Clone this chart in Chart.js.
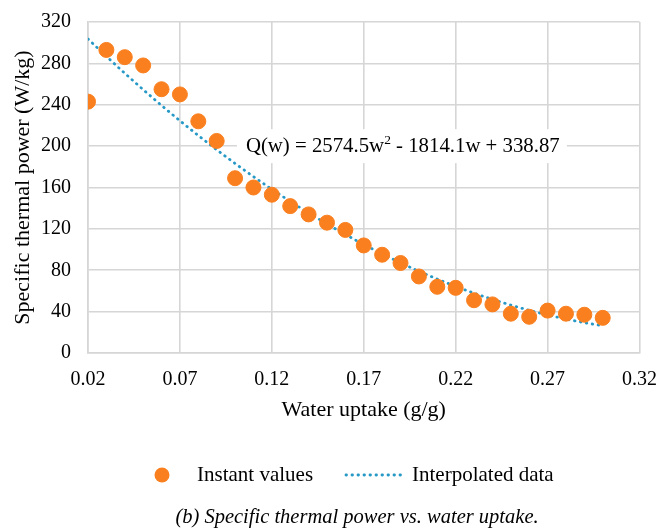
<!DOCTYPE html>
<html>
<head>
<meta charset="utf-8">
<script src="https://cdn.jsdelivr.net/npm/chart.js@4"></script>
<style>
  html, body { margin: 0; padding: 0; background: #fff; }
  #wrap { width: 660px; height: 528px; }
</style>
</head>
<body>
<div id="wrap"><canvas id="powerChart"></canvas></div>
<script>
// Measured specific thermal power against water uptake
const uptake = [0.02, 0.03, 0.04, 0.05, 0.06, 0.07, 0.08, 0.09, 0.10, 0.11,
                0.12, 0.13, 0.14, 0.15, 0.16, 0.17, 0.18, 0.19, 0.20, 0.21,
                0.22, 0.23, 0.24, 0.25, 0.26, 0.27, 0.28, 0.29, 0.30];
const instantPower = [243, 293, 286, 278, 255, 250, 224, 205, 169, 160,
                      153, 142, 134, 126, 119, 104, 95, 87, 74, 64,
                      63, 51, 47, 38, 35, 41, 38, 37, 34];

// Quadratic trendline coefficients: Q(w) = a*w^2 + b*w + c
const fitA = 2574.5;
const fitB = -1814.1;
const fitC = 338.87;

const xTicks = [0.02, 0.07, 0.12, 0.17, 0.22, 0.27, 0.32];
const yTicks = [0, 40, 80, 120, 160, 200, 240, 280, 320];

const SERIF = '"Liberation Serif", "Times New Roman", serif';
const ORANGE = '#FA7F1E';
const TEAL = '#2699C6';
const GRID = '#D6D6D6';

const fitted = uptake.map(w => ({ x: w, y: fitA * w * w + fitB * w + fitC }));
const measured = uptake.map((w, i) => ({ x: w, y: instantPower[i] }));

// equation box on the plot, legend and caption underneath
const extras = {
  id: 'extras',
  afterDatasetsDraw(chart) {
    const ctx = chart.ctx;
    const xs = chart.scales.x, ys = chart.scales.y;
    const x0 = xs.getPixelForValue(0.101);
    const yc = ys.getPixelForValue(200);
    ctx.save();
    ctx.fillStyle = '#fff';
    ctx.fillRect(x0, yc - 17, 330, 34);
    ctx.fillStyle = '#000';
    ctx.textBaseline = 'middle';
    ctx.font = '20.8px ' + SERIF;
    let x = x0 + 9;
    const part1 = 'Q(w) = ' + fitA.toFixed(1) + 'w';
    ctx.fillText(part1, x, yc);
    x += ctx.measureText(part1).width;
    ctx.font = '13.5px ' + SERIF;
    ctx.fillText('2', x, yc - 6);
    x += ctx.measureText('2').width;
    ctx.font = '20.8px ' + SERIF;
    ctx.fillText(' - ' + Math.abs(fitB).toFixed(1) + 'w + ' + fitC.toFixed(2), x, yc);
    ctx.restore();
  },
  afterDraw(chart) {
    const ctx = chart.ctx;
    const ly = 475;
    ctx.save();
    ctx.fillStyle = ORANGE;
    ctx.beginPath();
    ctx.arc(162, ly, 7.5, 0, Math.PI * 2);
    ctx.fill();
    ctx.strokeStyle = TEAL;
    ctx.lineWidth = 2.8;
    ctx.lineCap = 'round';
    ctx.setLineDash([0.5, 5.5]);
    ctx.beginPath();
    ctx.moveTo(346, ly);
    ctx.lineTo(402, ly);
    ctx.stroke();
    ctx.fillStyle = '#000';
    ctx.textBaseline = 'middle';
    ctx.font = '21px ' + SERIF;
    ctx.fillText('Instant values', 197, ly);
    ctx.fillText('Interpolated data', 412, ly);
    ctx.font = 'italic 20.5px ' + SERIF;
    ctx.textAlign = 'center';
    ctx.fillText('(b) Specific thermal power vs. water uptake.', 357, 518);
    ctx.restore();
  }
};

new Chart(document.getElementById('powerChart'), {
  type: 'scatter',
  data: {
    datasets: [
      {
        label: 'Instant values',
        data: measured,
        backgroundColor: ORANGE,
        borderColor: ORANGE,
        pointRadius: 7.5,
        pointHoverRadius: 7.5,
        order: 1
      },
      {
        label: 'Interpolated data',
        type: 'line',
        data: fitted,
        borderColor: TEAL,
        borderWidth: 2.8,
        borderDash: [0.5, 5.5],
        borderCapStyle: 'round',
        pointRadius: 0,
        fill: false,
        order: 2
      }
    ]
  },
  options: {
    responsive: true,
    maintainAspectRatio: false,
    animation: false,
    layout: { padding: { top: 22, right: 0, bottom: 100, left: 0 } },
    plugins: {
      legend: { display: false },
      tooltip: { enabled: false }
    },
    scales: {
      x: {
        type: 'linear',
        min: 0.02,
        max: 0.32,
        afterBuildTicks: s => { s.ticks = xTicks.map(v => ({ value: v })); },
        afterFit: s => { s.height = 75; },
        // invisible tick marks push the labels down without widening the side padding
        grid: { color: GRID, lineWidth: 1.6, drawTicks: true, tickLength: 12, tickColor: 'rgba(0,0,0,0)' },
        border: { color: GRID, width: 1.6 },
        ticks: {
          padding: 3,
          color: '#000',
          font: { family: SERIF, size: 20 },
          callback: v => v.toFixed(2)
        },
        title: {
          display: true,
          text: 'Water uptake (g/g)',
          color: '#000',
          font: { family: SERIF, size: 22 },
          padding: { top: 0, bottom: 5 }
        }
      },
      y: {
        min: 0,
        max: 320,
        afterBuildTicks: s => { s.ticks = yTicks.map(v => ({ value: v })); },
        afterFit: s => { s.width = 88; },
        grid: { color: GRID, lineWidth: 1.6, drawTicks: true, tickLength: 14, tickColor: 'rgba(0,0,0,0)' },
        border: { color: GRID, width: 1.6 },
        ticks: {
          padding: 3,
          color: '#000',
          font: { family: SERIF, size: 20 }
        },
        title: {
          display: true,
          text: 'Specific thermal power (W/kg)',
          color: '#000',
          font: { family: SERIF, size: 22 },
          padding: { top: 10, bottom: 0 }
        }
      }
    }
  },
  plugins: [extras]
});
</script>
</body>
</html>
